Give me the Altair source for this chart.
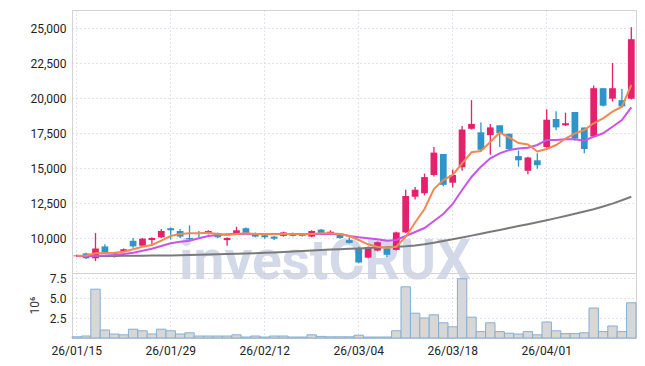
import altair as alt
import pandas as pd

dates = ["26/01/15", "26/01/16", "26/01/19", "26/01/20", "26/01/21", "26/01/22", "26/01/23", "26/01/26", "26/01/27", "26/01/28",
         "26/01/29", "26/01/30", "26/02/02", "26/02/03", "26/02/04", "26/02/05", "26/02/06", "26/02/09", "26/02/10", "26/02/11",
         "26/02/12", "26/02/13", "26/02/19", "26/02/20", "26/02/23", "26/02/24", "26/02/25", "26/02/26", "26/02/27", "26/03/03",
         "26/03/04", "26/03/05", "26/03/06", "26/03/09", "26/03/10", "26/03/11", "26/03/12", "26/03/13", "26/03/16", "26/03/17",
         "26/03/18", "26/03/19", "26/03/20", "26/03/23", "26/03/24", "26/03/25", "26/03/26", "26/03/27", "26/03/30", "26/03/31",
         "26/04/01", "26/04/02", "26/04/03", "26/04/06", "26/04/07", "26/04/08", "26/04/09", "26/04/10", "26/04/13", "26/04/14"]

opens = [8700, 8900, 8550, 9400, 8850, 9050, 9800, 9450, 9850, 10050,
         10700, 10500, 10000, 10350, 10300, 10350, 9850, 10300, 10700, 10350,
         10200, 10100, 10150, 10350, 10250, 10100, 10600, 10300, 10300, 9850,
         9250, 8600, 9100, 9250, 9150, 10400, 12950, 13200, 14500, 16000,
         13950, 15050, 17800, 17550, 17350, 18050, 17450, 15850, 14800, 15550,
         16500, 18500, 18050, 19000, 17900, 17250, 20700, 19950, 19850, 19950]
closes = [8750, 8550, 9250, 9000, 8900, 9200, 9400, 9950, 10000, 10500,
          10550, 10100, 9900, 10300, 10500, 10050, 10000, 10550, 10350, 10100,
          10050, 9950, 10400, 10150, 10150, 10500, 10300, 10450, 10000, 9650,
          8250, 9350, 9700, 8800, 10400, 13000, 13450, 14350, 16100, 13800,
          14500, 17750, 18150, 16300, 17900, 17500, 16350, 15550, 15750, 15200,
          18450, 17900, 18200, 17100, 16350, 20700, 19450, 20700, 19400, 24200]
highs = [8800, 8950, 10350, 9550, 8950, 9250, 10000, 10000, 10050, 10650,
         10750, 10650, 10900, 10500, 10550, 10400, 10050, 10800, 10750, 10400,
         10250, 10150, 10450, 10400, 10300, 10550, 10650, 10550, 10350, 10050,
         9400, 9400, 9750, 9300, 10450, 13450, 13650, 14600, 16500, 16000,
         14900, 18000, 19850, 18250, 18150, 18050, 17450, 16250, 15800, 16050,
         19200, 19050, 18950, 19000, 17900, 20900, 20700, 22500, 20650, 25050]
lows = [8650, 8500, 8350, 8850, 8600, 9000, 9300, 9400, 9450, 10000,
        9900, 10000, 9850, 10050, 10250, 10000, 9450, 10250, 10300, 10050,
        9950, 9850, 10100, 10100, 10100, 10050, 10250, 10200, 9950, 9600,
        8200, 8550, 9050, 8650, 9100, 10350, 12750, 13050, 14400, 13700,
        13600, 14800, 17750, 16200, 15950, 16500, 16300, 15100, 14550, 14950,
        16450, 17700, 18000, 16950, 16050, 17200, 19400, 19750, 19300, 19900]

ma_short = [8736, 8750, 8907, 8930, 8950, 9021, 9193, 9379, 9500, 9807,
            10143, 10286, 10336, 10336, 10379, 10286, 10214, 10286, 10336, 10286,
            10286, 10264, 10286, 10286, 10264, 10286, 10336, 10336, 10286, 10143,
            9857, 9550, 9379, 9307, 9379, 10093, 11107, 12071, 13500, 14143,
            14500, 15336, 16121, 16214, 16857, 17536, 17179, 16786, 16679, 16179,
            16357, 16643, 17107, 17479, 17714, 18193, 18550, 19021, 19379, 20929]
ma_mid = [8714, 8720, 8736, 8757, 8786, 8857, 8950, 9093, 9236, 9429,
          9621, 9736, 9807, 9979, 10143, 10214, 10264, 10286, 10286, 10286,
          10286, 10286, 10286, 10286, 10286, 10286, 10286, 10286, 10286, 10143,
          10050, 9979, 9907, 9807, 9857, 10143, 10429, 10714, 11214, 11714,
          12429, 13429, 14357, 15093, 15693, 16050, 16286, 16393, 16450, 16643,
          17000, 17000, 17050, 17050, 16950, 17236, 17479, 17950, 18429, 19336]
ma_long = [8714, 8714, 8714, 8721, 8721, 8729, 8729, 8736, 8743, 8750,
           8757, 8771, 8786, 8800, 8814, 8836, 8857, 8871, 8893, 8914,
           8943, 8971, 9000, 9036, 9071, 9107, 9136, 9171, 9200, 9229,
           9257, 9286, 9314, 9343, 9371, 9407, 9464, 9550, 9657, 9786,
           9907, 10036, 10171, 10307, 10443, 10579, 10714, 10850, 10986, 11121,
           11271, 11421, 11571, 11729, 11893, 12057, 12250, 12457, 12693, 12950]
volumes = [0.15, 0.25, 6.1, 1.0, 0.5, 0.4, 1.1, 0.9, 0.5, 1.1,
           0.9, 0.5, 0.65, 0.25, 0.25, 0.25, 0.25, 0.4, 0.12, 0.25,
           0.12, 0.25, 0.25, 0.12, 0.12, 0.4, 0.2, 0.15, 0.15, 0.15,
           0.35, 0.12, 0.12, 0.12, 0.9, 6.4, 3.1, 2.5, 2.9, 1.9,
           1.4, 7.4, 2.6, 0.8, 1.9, 0.8, 0.6, 0.5, 0.8, 0.4,
           2.0, 0.9, 0.55, 0.55, 0.65, 3.75, 0.8, 1.5, 0.8, 4.4]

label_dates = ["26/01/15", "26/01/29", "26/02/12", "26/03/04", "26/03/18", "26/04/01"]
price_ticks = [10000, 12500, 15000, 17500, 20000, 22500, 25000]
vol_ticks = [2.5, 5.0, 7.5]

df = pd.DataFrame({
    "date": dates, "open": opens, "close": closes, "high": highs, "low": lows,
    "ma5": ma_short, "ma20": ma_mid, "ma60": ma_long, "vol": volumes,
})
df["dir"] = ["up" if c >= o else "down" for o, c in zip(opens, closes)]

FONT = "Roboto"
PINK = "#e5206c"
BLUE = "#2f95c9"
GRID = "#c3c9dc"

W = 564
xscale = alt.Scale(domain=dates, paddingInner=0, paddingOuter=0)
color = alt.Color("dir:N", scale=alt.Scale(domain=["up", "down"], range=[PINK, BLUE]), legend=None)

x_main = alt.X("date:O", sort=dates, scale=xscale,
               axis=alt.Axis(values=label_dates, labels=False, ticks=False, domain=False, title=None,
                             grid=True, gridColor=GRID, gridDash=[1, 3], bandPosition=0.5))
yscale = alt.Scale(domain=[7500, 26286], nice=False, zero=False)
yaxis = alt.Axis(values=price_ticks, format=",.0f", title=None, ticks=False, domain=False,
                 labelPadding=6, grid=True, gridColor=GRID, gridDash=[1, 3])

base = alt.Chart(df).encode(x=x_main)

mark_wm = alt.Chart(pd.DataFrame({"t": ["investCRUX"]})).mark_text(
    font="Roboto", fontWeight="bold", fontSize=55,
    color="#ccd3e4", align="left", baseline="alphabetic", opacity=0.85
).encode(x=alt.value(107), y=alt.value(269), text="t:N")

wick = base.mark_rule(strokeWidth=1.3).encode(
    y=alt.Y("low:Q", scale=yscale, axis=yaxis), y2="high:Q", color=color)
body = base.mark_bar(width=alt.RelativeBandSize(0.72)).encode(
    y=alt.Y("open:Q", scale=yscale, axis=yaxis), y2="close:Q", color=color)
l_long = base.mark_line(color="#7a7a7a", strokeWidth=2).encode(y=alt.Y("ma60:Q", scale=yscale, axis=yaxis))
l_mid = base.mark_line(color="#cc52e8", strokeWidth=2).encode(y=alt.Y("ma20:Q", scale=yscale, axis=yaxis))
l_short = base.mark_line(color="#f08a50", strokeWidth=2).encode(y=alt.Y("ma5:Q", scale=yscale, axis=yaxis))

main = alt.layer(mark_wm, wick, body, l_long, l_mid, l_short).properties(width=W, height=263)

vol = alt.Chart(df).mark_bar(fill="#d7d7d7", stroke="#86aed0", strokeWidth=1).encode(
    x=alt.X("date:O", sort=dates, scale=xscale,
            axis=alt.Axis(values=label_dates, ticks=False, domain=False, title=None, labelAngle=0,
                          labelPadding=7, grid=True, gridColor=GRID, gridDash=[1, 3], bandPosition=0.5)),
    y=alt.Y("vol:Q", scale=alt.Scale(domain=[0, 8.125], nice=False),
            axis=alt.Axis(values=vol_ticks, format=".1f", title="10⁶", ticks=False, domain=False,
                          labelPadding=6, grid=True, gridColor=GRID, gridDash=[1, 3],
                          titleX=-34, titleY=32, titleAngle=-90,
                          titleAlign="center", titleBaseline="alphabetic",
                          titleFont=FONT, titleFontSize=12, titleFontWeight="normal", titleColor="#333")),
).properties(width=W, height=65)

chart = alt.vconcat(main, vol, spacing=0, bounds="flush").properties(
    padding={"left": 19, "top": 1, "right": 0, "bottom": 0}
).configure_view(stroke="#d3d3d3").configure_axis(
    labelFont=FONT, labelFontSize=12, labelColor="#222"
)

chart.save("out.html", embed_options={"renderer": "svg", "actions": False})
